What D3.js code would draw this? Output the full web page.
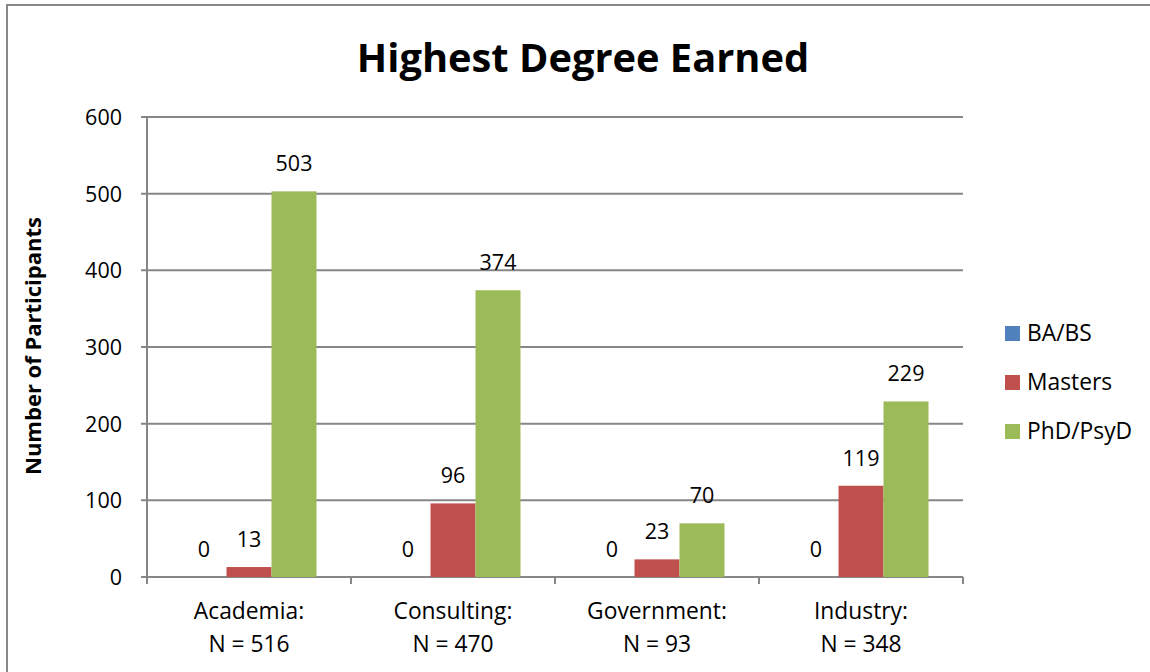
<!DOCTYPE html>
<html><head><meta charset="utf-8">
<script src="https://cdn.jsdelivr.net/npm/d3@7"></script>
<style>body{margin:0;background:#fff}svg{display:block}text{font-family:"Open Sans",Lato,sans-serif}</style>
</head><body>
<svg id="c" width="1150" height="672"></svg>
<script>
const categories = ["Academia:|N = 516","Consulting:|N = 470","Government:|N = 93","Industry:|N = 348"];
const seriesNames = ["BA/BS","Masters","PhD/PsyD"];
const baBs = [0,0,0,0];
const masters = [13,96,23,119];
const phd = [503,374,70,229];
const yTicks = [0,100,200,300,400,500,600];
const colors = ["#4F81BD","#C0504D","#9BBB59"];
const series = [baBs, masters, phd];

const svg = d3.select("#c");
const pL=147,pR=963,pT=117,pB=577;
const FS=21.5, FT=22.8;
// frame
svg.append("line").attr("x1",7).attr("x2",1150).attr("y1",5).attr("y2",5).attr("stroke","#888").attr("stroke-width",2);
svg.append("line").attr("x1",7).attr("x2",7).attr("y1",4).attr("y2",672).attr("stroke","#888").attr("stroke-width",2);

svg.append("text").attr("x",583).attr("y",72).attr("text-anchor","middle").attr("font-size",39.8).attr("font-weight","bold").text("Highest Degree Earned");

const x = d3.scaleBand().domain(categories).range([pL,pR]).paddingInner(0).paddingOuter(0);
const xs = d3.scaleBand().domain(seriesNames).range([0,x.bandwidth()]).paddingOuter(0.767).paddingInner(0);
const y = d3.scaleLinear().domain([0,600]).range([pB,pT]);

// grid
svg.append("g").selectAll("line").data(yTicks).join("line")
 .attr("x1",pL-6).attr("x2",pR).attr("y1",d=>y(d)).attr("y2",d=>y(d)).attr("stroke","#868686").attr("stroke-width",2);
// y axis line
svg.append("line").attr("x1",pL).attr("x2",pL).attr("y1",pT).attr("y2",pB+7).attr("stroke","#868686").attr("stroke-width",2);
// x ticks
const bounds = categories.map(c=>x(c)).concat([pR]);
svg.append("g").selectAll("line").data(bounds).join("line")
 .attr("x1",d=>d).attr("x2",d=>d).attr("y1",pB).attr("y2",pB+7).attr("stroke","#868686").attr("stroke-width",2);
// y labels
svg.append("g").selectAll("text").data(yTicks).join("text")
 .attr("x",pL-25).attr("y",d=>y(d)+8).attr("text-anchor","end").attr("font-size",FS).attr("fill","#000").text(d=>d);
// axis title
svg.append("text").attr("transform","translate(41,346) rotate(-90)").attr("text-anchor","middle").attr("font-size",22).attr("font-weight","bold").text("Number of Participants");

// bars
series.forEach((vals,si)=>{
  const g = svg.append("g");
  g.selectAll("rect").data(vals).join("rect")
   .attr("x",(d,i)=>x(categories[i])+xs(seriesNames[si]))
   .attr("width",xs.bandwidth())
   .attr("y",d=>y(d)).attr("height",d=>pB-y(d))
   .attr("fill",colors[si]);
  g.selectAll("text").data(vals).join("text")
   .attr("x",(d,i)=>x(categories[i])+xs(seriesNames[si])+xs.bandwidth()/2)
   .attr("y",d=>y(d)-20).attr("text-anchor","middle").attr("font-size",FS).text(d=>d);
});

// category labels
categories.forEach(c=>{
  const parts=c.split("|");
  const t=svg.append("text").attr("text-anchor","middle").attr("font-size",FT);
  t.append("tspan").attr("x",x(c)+x.bandwidth()/2).attr("y",619).text(parts[0]);
  t.append("tspan").attr("x",x(c)+x.bandwidth()/2).attr("y",652).text(parts[1]);
});

// legend
const lg = svg.append("g");
seriesNames.forEach((s,i)=>{
  const yy=326+i*49;
  lg.append("rect").attr("x",1005).attr("y",yy).attr("width",15).attr("height",15).attr("fill",colors[i]);
  lg.append("text").attr("x",1027).attr("y",yy+15).attr("font-size",FT).text(s);
});
</script>
</body></html>
